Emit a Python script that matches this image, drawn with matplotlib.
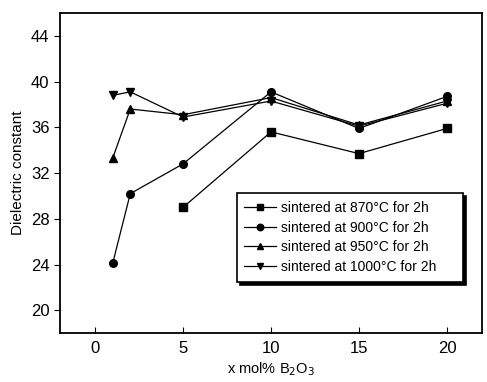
import matplotlib
matplotlib.use('Agg')
import matplotlib.pyplot as plt

plt.rcParams['font.family'] = ['Liberation Sans', 'DejaVu Sans']

# B2O3 content (mol%)
x_870 = [5, 10, 15, 20]
y_870 = [29.0, 35.6, 33.7, 35.9]

x_all = [1, 2, 5, 10, 15, 20]
y_900 = [24.1, 30.2, 32.8, 39.1, 35.9, 38.7]
y_950 = [33.3, 37.6, 37.1, 38.6, 36.2, 38.3]
y_1000 = [38.8, 39.1, 36.9, 38.3, 36.1, 38.1]

labels = ['sintered at 870°C for 2h', 'sintered at 900°C for 2h',
          'sintered at 950°C for 2h', 'sintered at 1000°C for 2h']

fig = plt.figure(figsize=(4.87, 3.82), dpi=100)
ax = fig.add_axes([0.123, 0.128, 0.867, 0.838])

kw = dict(color='black', lw=0.9, ms=5.5)
ax.plot(x_870, y_870, marker='s', label=labels[0], **kw)
ax.plot(x_all, y_900, marker='o', label=labels[1], **kw)
ax.plot(x_all, y_950, marker='^', label=labels[2], **kw)
ax.plot(x_all, y_1000, marker='v', label=labels[3], **kw)

ax.set_xlim(-2, 22)
ax.set_ylim(18, 46)
ax.set_xticks([0, 5, 10, 15, 20])
ax.set_yticks([20, 24, 28, 32, 36, 40, 44])
ax.tick_params(axis='x', direction='in', length=4, labelsize=12, pad=6)
ax.tick_params(axis='y', direction='out', length=4, labelsize=12)
for s in ax.spines.values():
    s.set_linewidth(1.3)

ax.set_xlabel('x mol% B$_2$O$_3$', fontsize=10.5, labelpad=3)
ax.set_ylabel('Dielectric constant', fontsize=11, labelpad=4)

leg = ax.legend(loc='upper left', bbox_to_anchor=(0.419, 0, 0.536, 0.4375),
                mode='expand', borderaxespad=0, fontsize=10,
                frameon=True, fancybox=False, edgecolor='black',
                shadow={'color': 'black', 'alpha': 1}, handlelength=2.3,
                borderpad=0.55, labelspacing=0.42, handletextpad=0.3,
                markerscale=0.85)
leg.get_frame().set_linewidth(1.2)

fig.savefig('out.png', dpi=100)
